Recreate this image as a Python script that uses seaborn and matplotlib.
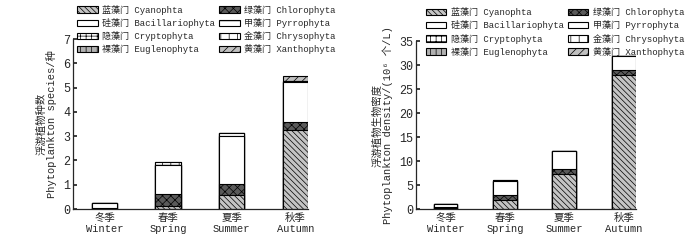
import numpy as np
import pandas as pd
import matplotlib
matplotlib.use("Agg")
import matplotlib.pyplot as plt
import matplotlib.patches as mpatches
import seaborn as sns

# %%
seasons = ["冬季\nWinter", "春季\nSpring", "夏季\nSummer", "秋季\nAutumn"]
groups = ["蓝藻门 Cyanophta", "绿藻门 Chlorophyta", "硅藻门 Bacillariophyta",
          "隐藻门 Cryptophyta", "甲藻门 Pyrrophyta", "裸藻门 Euglenophyta",
          "金藻门 Chrysophyta", "黄藻门 Xanthophyta"]

# species number per season (stack order = groups order)
species_cyano = [0.0, 0.12, 0.57, 3.24]
species_chloro = [0.05, 0.50, 0.45, 0.35]
species_bacil = [0.21, 1.18, 2.00, 1.63]
species_crypto = [0.0, 0.0, 0.0, 0.0]
species_pyrro = [0.0, 0.0, 0.10, 0.0]
species_eugle = [0.0, 0.0, 0.0, 0.05]
species_chryso = [0.0, 0.13, 0.0, 0.0]
species_xantho = [0.0, 0.0, 0.0, 0.22]

# density (10^6 cells/L)
dens_cyano = [0.25, 1.9, 7.4, 28.0]
dens_chloro = [0.25, 1.0, 1.0, 0.9]
dens_bacil = [0.5, 2.9, 3.6, 3.0]
dens_crypto = [0.0, 0.0, 0.0, 0.0]
dens_pyrro = [0.0, 0.0, 0.1, 0.0]
dens_eugle = [0.0, 0.0, 0.0, 0.0]
dens_chryso = [0.0, 0.15, 0.0, 0.0]
dens_xantho = [0.0, 0.0, 0.0, 0.0]

# %%
styles = {
    groups[0]: ("#c4c4c4", r"\\\\\\"),
    groups[1]: ("#5a5a5a", "xxxx"),
    groups[2]: ("white", None),
    groups[3]: ("white", "+++"),
    groups[4]: ("white", "--"),
    groups[5]: ("#b0b0b0", "|||"),
    groups[6]: ("white", "||"),
    groups[7]: ("#c0c0c0", "////"),
}

sns.set_theme(style="ticks")
plt.rcParams["font.family"] = ["Liberation Mono", "Noto Sans CJK SC", "DejaVu Sans"]
plt.rcParams["hatch.linewidth"] = 0.5
plt.rcParams["hatch.color"] = "black"


def stacked(ax, values, ylim, yticks, ylabel):
    df = pd.DataFrame(np.array(values).T, columns=groups)
    cum = df[groups].cumsum(axis=1)
    cum["season"] = seasons
    # draw from top layer down so lower layers cover the upper ones
    for g in groups[::-1]:
        face, hatch = styles[g]
        sns.barplot(data=cum, x="season", y=g, ax=ax, color=face, saturation=1,
                    edgecolor="black", linewidth=0.8, hatch=hatch, width=0.4,
                    errorbar=None, order=seasons)
    ax.set_xlim(-0.5, 3.2)
    ax.set_ylim(*ylim)
    ax.set_yticks(yticks)
    ax.set_xlabel("")
    ax.set_ylabel(ylabel, fontsize=7.5, linespacing=1.0, labelpad=4)
    ax.tick_params(axis="y", direction="in", length=3, labelsize=8.5, pad=2)
    ax.tick_params(axis="x", length=0, labelsize=7.5, pad=3)
    for lab in ax.get_xticklabels():
        lab.set_linespacing(1.1)
    sns.despine(ax=ax)
    ax.spines["left"].set_linewidth(0.9)
    ax.spines["bottom"].set_linewidth(0.9)


fig = plt.figure(figsize=(7, 2.4), dpi=100)
ax1 = fig.add_axes([0.104, 0.129, 0.336, 0.708])
ax2 = fig.add_axes([0.594, 0.129, 0.314, 0.70])

stacked(ax1,
        [species_cyano, species_chloro, species_bacil, species_crypto,
         species_pyrro, species_eugle, species_chryso, species_xantho],
        (0, 7), range(0, 8), "浮游植物种数\nPhytoplankton species/种")
stacked(ax2,
        [dens_cyano, dens_chloro, dens_bacil, dens_crypto,
         dens_pyrro, dens_eugle, dens_chryso, dens_xantho],
        (0, 35), range(0, 36, 5),
        "浮游植物生物密度\nPhytoplankton density/(10⁶ 个/L)")

# legend: left column = first four, right column = second four
leg_order = [groups[0], groups[2], groups[3], groups[5],
             groups[1], groups[4], groups[6], groups[7]]
handles = [mpatches.Patch(facecolor=styles[g][0], hatch=styles[g][1],
                          edgecolor="black", linewidth=0.8, label=g)
           for g in leg_order]
for x0, y0 in ((0.105, 0.995), (0.603, 0.985)):
    fig.legend(handles=handles, loc="upper left", bbox_to_anchor=(x0, y0),
               ncol=2, frameon=False, fontsize=6.5, handlelength=2.3,
               handleheight=0.7, handletextpad=0.5, columnspacing=0.4,
               labelspacing=0.35, borderaxespad=0.0)

fig.savefig("out.png", dpi=100)
